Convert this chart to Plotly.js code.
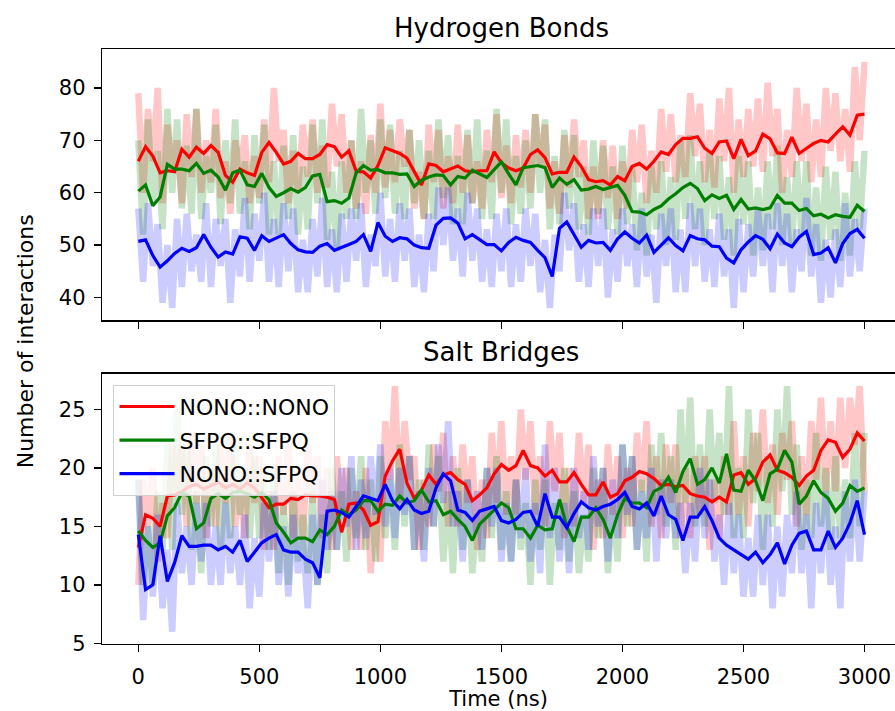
<!DOCTYPE html>
<html>
<head>
<meta charset="utf-8">
<script src="https://cdn.plot.ly/plotly-3.0.1.min.js"></script>
<style>html,body{margin:0;padding:0;background:#fff;}#chart{width:895px;height:711px;}</style>
</head>
<body>
<div id="chart"></div>
<script>
// ---- sampling grids (ns) ----
const smoothStep = 30;   // running-average curves
const rawStep = 20;      // raw per-frame counts (faint bands)
const smoothTime = Array.from({length: 3000 / smoothStep + 1}, (_, i) => i * smoothStep);
const rawTime = Array.from({length: 3000 / rawStep + 1}, (_, i) => i * rawStep);

const seriesNames = ["NONO::NONO", "SFPQ::SFPQ", "NONO::SFPQ"];
const xTickVals = [0, 500, 1000, 1500, 2000, 2500, 3000];
const hbTickVals = [40, 50, 60, 70, 80];
const sbTickVals = [5, 10, 15, 20, 25];

// ---- Hydrogen bonds: smoothed ----
const hbNonoSmooth = [66,68.8,67,63.8,64.2,64,68.3,66.8,68.7,67.5,
69,67.7,63.3,62,64.5,63.8,63.3,67.7,69.6,67.7,
65.5,66,67.5,66.5,66.5,67.3,69.2,68.8,66.8,68,
64.1,64,62.8,65.2,68.6,68,67.5,66.6,63.9,61.5,
65.5,65.2,64,64.5,65.1,64.2,64,64.2,64.2,67.8,
65.7,64.7,64.2,64.7,67.3,68.2,66.7,63.6,63.9,63.9,
66.8,65,62.5,62.1,62.3,61.5,63.1,62.3,65,65.6,
64.5,66,67.8,67.3,69.2,70.4,70.4,70.7,68.5,67.5,
69.7,69.9,66.5,70.2,67.1,68,71.2,70.3,67.6,67.5,
70.6,67.5,68.5,69.4,70,69.7,71.2,72.6,71,74.8,
75];
const hbSfpqSmooth = [60.3,61.5,57.5,59.2,65.4,64.5,64.5,64.2,65.6,63.7,
64.3,63,60.5,63.8,64.3,61.5,61.2,63.7,61,59.3,
60,60.8,60.1,61,63.2,63.5,58.3,58.5,58,59,
63.8,65.2,64.3,64.4,63.8,63.8,63.5,63.6,61.2,62.4,
63,63.4,63.3,61.5,63.1,62.8,64.3,63.6,62.9,64.4,
65.9,63.6,61.5,64.8,65,65.2,64.8,61,62.8,61.6,
62.5,60.5,60.7,61.2,60.6,61,61.4,59.5,56.4,56.3,
55.8,56.8,57.5,58.8,59.8,61,61.8,60.8,58.5,59.6,
58.9,59.5,56.8,58.7,56.9,57.1,56.8,57.1,59.5,58,
58,56.6,57,55.6,55.9,55.2,55.8,55.5,55.3,57.6,
56.4];
const hbMixSmooth = [50.7,51,48,45.8,47,48.4,49.4,48.8,49.5,52,
49.6,47.7,48.7,48.3,51.6,51.3,49,51.8,50.7,51.4,
52,50.3,49.1,48.7,48.6,49.8,50.3,49,49.5,50.1,
50.7,52,48.8,54.3,51.7,50.7,51.4,51.2,50,49.5,
49.4,53.8,55.1,55.2,54.2,51.2,52,51,50.1,50.1,
48.9,50.5,51.5,50.9,50.5,49,47.6,44,53.2,54.4,
52.1,49.6,50.9,50.4,50.5,49,51.2,52.5,51.3,50.4,
51.9,48.6,50,51.4,49.9,48.9,51.8,51.2,51,49.8,
49.7,47.5,46.6,49.1,50.6,51.8,51.1,49.3,52.1,50.4,
49.7,51.5,52.6,48.2,48.5,49.5,46.6,50.3,52.2,53,
51.3];

// ---- Hydrogen bonds: raw counts ----
const hbNonoRaw = [79,60,76,66,80,58,73,64,70,58,
75,63,76,60,70,62,76,59,66,56,
70,64,71,58,67,59,74,62,80,66,
72,58,68,60,73,63,74,60,69,61,
77,65,75,60,70,57,66,56,71,60,
77,61,72,62,74,65,72,57,64,55,
73,62,72,57,67,58,73,60,71,58,
66,57,72,62,75,59,69,58,71,61,
72,60,75,65,73,57,66,56,71,61,
74,63,70,55,65,55,70,59,69,55,
66,57,72,62,73,58,68,60,76,64,
75,62,71,63,79,67,77,62,72,61,
78,66,80,60,74,63,76,65,78,64,
81,67,76,60,72,63,80,66,77,62,
74,63,80,68,79,66,76,64,84,70,
85];
const hbSfpqRaw = [70,52,74,58,68,53,76,60,74,57,
69,56,76,55,67,60,73,54,70,58,
74,56,66,53,71,58,73,52,66,52,
69,55,71,52,65,53,73,58,74,51,
64,49,66,55,70,55,76,60,70,56,
74,59,73,56,68,55,72,58,70,55,
68,55,74,59,71,54,67,54,72,58,
74,55,68,55,76,60,74,54,67,56,
70,57,75,60,74,53,67,54,72,57,
71,53,65,52,70,56,69,53,65,52,
69,54,65,49,60,48,65,53,66,50,
63,51,70,55,71,53,66,50,68,55,
67,51,63,48,67,54,66,48,61,49,
66,53,69,50,63,50,66,52,66,48,
61,47,65,51,64,47,60,48,66,53,
68];
const hbMixRaw = [57,43,58,46,54,39,50,38,55,42,
56,45,52,43,58,42,55,46,55,39,
53,44,59,43,56,47,60,43,55,42,
58,45,57,41,51,41,55,44,59,42,
53,41,56,43,57,47,58,42,52,46,
60,44,55,43,58,47,57,42,52,41,
56,45,61,50,61,47,57,44,60,47,
57,43,53,42,56,45,57,42,54,43,
57,46,56,41,51,38,52,45,60,49,
58,43,54,42,57,46,57,40,53,43,
57,46,54,42,57,44,52,39,56,46,
57,41,53,41,58,46,57,43,53,42,
56,44,53,38,55,41,54,44,57,46,
56,41,58,46,56,41,53,45,59,44,
54,39,51,40,53,42,58,44,55,45,
57];

// ---- Salt bridges: smoothed ----
const sbNonoSmooth = [13.2,16,15.7,15,17.6,17.7,18,18.4,18.6,18.2,
18.5,18.8,18.3,18.6,18.2,18.7,18.3,17.5,16.6,16.9,
16.9,17.4,17.3,17.7,17.6,17.6,17.5,17.3,14.5,16.9,
17,16.4,15.1,15.4,19.3,20.6,21.6,18.7,17.4,18.1,
19.4,18.6,19.4,19.6,19,18.6,17.2,17.7,18.3,19.5,
20.3,19.8,20.2,21.5,20.2,20,19.3,19.8,18.8,18.8,
19.6,18.6,17.7,17.7,18.8,17.5,17.8,18.9,19.2,19.7,
19.5,19.1,18.5,18.6,18.4,18.5,17.8,17.6,17.5,17.1,
17.5,17.1,19.4,19.6,18.6,19.1,20.5,21.1,19.8,19.6,
19.2,18.5,19.3,19.8,21.5,22.4,22.2,20.9,21.6,23,
22.3];
const sbSfpqSmooth = [14.6,13.8,13.2,13.6,15.9,16.6,17.9,17.6,14.8,15.3,
17.4,17.8,17.4,17.9,18,17.8,17.5,17.9,17.3,15.3,
14.5,13.6,14,14,13.7,14.7,14.3,15,16.4,16,
16.4,17.2,17.2,16.3,16.9,16.8,17.6,17,17.2,18.1,
17.1,17.2,16,16.3,15.6,15,13.8,15.2,15.8,16.4,
17,16.6,14.8,14.8,14,15.1,14.7,14.8,17.3,15,
13.7,15.8,15.8,16.6,15.6,14,16,17.4,17,17,
16.6,18,18.3,19.2,17.9,19.7,20.8,18.6,19,20,
18.7,21.2,18.1,18,19.8,18.9,17.2,19.5,19.9,21.5,
20.5,16.9,17.6,18.9,17.9,17.4,16.3,17,18.5,18,
18.3];
const sbMixSmooth = [14.3,9.6,10,14.2,10.3,11.9,14.2,13.3,13.3,13.4,
13.4,13,13.3,12.8,13.8,12,12.8,13.6,14,14.3,
13,12.8,12.8,12.2,11.9,10.6,16.3,16.4,16.2,15.8,
16.7,17.6,17.4,17.2,18.6,17.2,16.5,17.3,16.4,16.1,
16.3,18.3,19.5,18.9,16.4,16.2,15.5,16.3,16.5,16.7,
15.5,15.3,15.6,16.2,16.3,15,17.8,15.8,15.8,14.9,
16.1,17.1,16.6,16.4,16.7,16.9,17.3,17.9,16.7,16.5,
17,15.9,17.6,16,15.6,13.8,15.8,15.8,16.7,15.5,
14,13.4,13,12.6,12.2,12.8,11.9,12.6,13.6,11.8,
13.4,14.4,14.6,13,13,14.6,13.2,14,15.3,17.2,
14.3];

// ---- Salt bridges: raw counts ----
const sbNonoRaw = [10,19,15,20,12,17,14,22,18,22,
15,23,17,22,14,20,15,22,17,23,
15,19,14,22,17,21,13,18,13,21,
16,22,14,19,14,22,17,21,14,20,
13,21,16,20,13,18,13,20,11,17,
12,24,19,27,17,24,19,21,13,19,
15,22,18,23,15,21,15,22,17,21,
13,19,14,23,17,24,16,21,16,25,
19,24,16,21,15,24,18,23,14,20,
15,23,17,22,13,19,14,22,16,21,
14,20,15,23,18,24,15,21,14,22,
17,22,14,20,14,21,16,21,13,19,
14,21,16,24,16,21,15,23,18,25,
17,22,16,23,19,24,15,21,16,24,
19,26,18,24,18,26,20,26,22,27,
18];
const sbSfpqRaw = [19,10,15,10,18,13,22,13,25,16,
22,13,18,11,21,15,22,13,19,14,
22,16,20,14,21,14,19,13,20,11,
17,10,18,12,16,11,18,10,16,11,
20,13,18,12,20,14,21,13,19,12,
21,14,19,13,22,15,21,13,19,13,
22,15,21,12,18,11,20,13,19,11,
16,12,20,14,21,13,18,12,19,13,
17,10,19,13,19,10,17,13,20,12,
18,11,16,12,20,14,20,11,17,12,
22,15,21,13,19,12,22,16,23,15,
21,13,25,17,26,15,22,15,25,17,
23,16,27,14,20,14,25,17,23,13,
21,15,25,18,27,16,22,13,19,14,
23,15,20,13,21,14,19,14,23,15,
23];
const sbMixRaw = [19,7,15,9,16,8,13,6,17,11,
15,10,17,12,17,10,15,10,17,11,
15,10,16,8,14,9,17,12,18,10,
15,9,16,11,14,8,16,10,19,13,
18,13,20,15,21,13,19,14,21,16,
22,15,20,14,20,16,21,13,18,12,
20,15,22,17,24,15,18,12,19,14,
18,13,20,15,20,12,17,12,19,14,
20,12,17,11,22,14,20,12,17,11,
20,14,18,13,21,15,20,12,19,14,
22,16,21,13,18,14,20,12,19,14,
19,14,17,11,17,12,20,14,19,12,
16,10,17,11,16,9,14,9,16,10,
16,8,15,9,16,11,18,11,16,8,
17,11,18,10,15,8,18,12,19,12,
18];

// ---- styles ----
const solidColors = ["#ff0000", "#008000", "#0000ff"];
const faintColors = ["rgba(255,0,0,0.22)", "rgba(0,128,0,0.22)", "rgba(0,0,255,0.2)"];

function raw(y, k, xa, ya) {
  return {x: rawTime, y: y, type: "scatter", mode: "lines", xaxis: xa, yaxis: ya,
    line: {color: faintColors[k], width: 6.5}, showlegend: false, hoverinfo: "skip"};
}
function smooth(y, k, xa, ya, legend) {
  return {x: smoothTime, y: y, type: "scatter", mode: "lines", xaxis: xa, yaxis: ya,
    name: seriesNames[k], legendgroup: "g" + k, showlegend: legend,
    line: {color: solidColors[k], width: 3.2}};
}

const traces = [
  raw(hbNonoRaw, 0, "x", "y"), raw(hbSfpqRaw, 1, "x", "y"), raw(hbMixRaw, 2, "x", "y"),
  raw(sbNonoRaw, 0, "x2", "y2"), raw(sbSfpqRaw, 1, "x2", "y2"), raw(sbMixRaw, 2, "x2", "y2"),
  smooth(hbNonoSmooth, 0, "x", "y", false), smooth(hbSfpqSmooth, 1, "x", "y", false), smooth(hbMixSmooth, 2, "x", "y", false),
  smooth(sbNonoSmooth, 0, "x2", "y2", true), smooth(sbSfpqSmooth, 1, "x2", "y2", true), smooth(sbMixSmooth, 2, "x2", "y2", true)
];

const axisCommon = {showgrid: false, zeroline: false, showline: true, linecolor: "black", linewidth: 1.3,
  ticks: "outside", ticklen: 7, tickwidth: 1.3, tickcolor: "black", tickfont: {size: 21, color: "black"}};

const layout = {
  width: 895, height: 711,
  margin: {l: 101.5, r: 0, t: 49, b: 66.5, pad: 0},
  paper_bgcolor: "white", plot_bgcolor: "white",
  font: {family: "DejaVu Sans", size: 21, color: "black"},
  xaxis: Object.assign({}, axisCommon, {domain: [0, 1], anchor: "y", range: [-150, 3126], tickvals: xTickVals,
    showticklabels: false, mirror: true}),
  yaxis: Object.assign({}, axisCommon, {domain: [0.5437, 1], anchor: "x", range: [35.6, 87.45], tickvals: hbTickVals,
    mirror: false, ticklabelstandoff: 4}),
  xaxis2: Object.assign({}, axisCommon, {domain: [0, 1], anchor: "y2", range: [-150, 3126], tickvals: xTickVals,
    mirror: true, ticklabelstandoff: 6,
    title: {text: "Time (ns)", font: {size: 21, color: "black"}, standoff: 11}}),
  yaxis2: Object.assign({}, axisCommon, {domain: [0, 0.4542], anchor: "x2", range: [4.95, 28.05], tickvals: sbTickVals,
    mirror: false, ticklabelstandoff: 4}),
  legend: {x: 0.0145, y: 0.4358, xanchor: "left", yanchor: "top", bgcolor: "rgba(255,255,255,0.8)",
    bordercolor: "#d0d0d0", borderwidth: 1, font: {size: 22, color: "black"}, traceorder: "grouped",
    tracegroupgap: 2, itemwidth: 55},
  annotations: [
    {text: "Hydrogen Bonds", xref: "paper", yref: "paper", x: 0.5035, y: (644.5 - 28) / 595.5,
      xanchor: "center", yanchor: "middle", showarrow: false, font: {size: 26, color: "black"}},
    {text: "Salt Bridges", xref: "paper", yref: "paper", x: 0.5035, y: (644.5 - 352.5) / 595.5,
      xanchor: "center", yanchor: "middle", showarrow: false, font: {size: 26, color: "black"}},
    {text: "Number of interactions", xref: "paper", yref: "paper", x: (25 - 101.5) / 793.5, y: (644.5 - 342) / 595.5,
      xanchor: "center", yanchor: "middle", textangle: -90, showarrow: false, font: {size: 22, color: "black"}}
  ]
};

Plotly.newPlot("chart", traces, layout, {staticPlot: true, displayModeBar: false});
</script>
</body>
</html>
